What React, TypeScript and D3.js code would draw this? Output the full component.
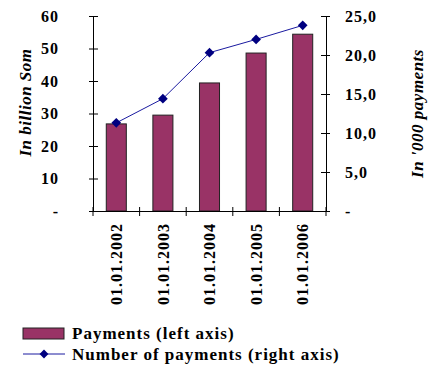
import { useEffect, useRef } from "react";
import * as d3 from "d3";

const dates = ["01.01.2002", "01.01.2003", "01.01.2004", "01.01.2005", "01.01.2006"];
const payments = [26.8, 29.5, 39.4, 48.6, 54.4];
const paymentCounts = [11.3, 14.4, 20.3, 22.0, 23.8];
const leftTicks = [0, 10, 20, 30, 40, 50, 60];
const rightTicks = [0, 5, 10, 15, 20, 25];

const font = "'Liberation Serif', 'Times New Roman', serif";

export default function App() {
	const ref = useRef<SVGSVGElement>(null);

	useEffect(() => {
		if (!ref.current) return;
		const svg = d3.select(ref.current);
		svg.selectAll("*").remove();

		const left = 93;
		const right = 326;
		const top = 16;
		const bottom = 211;

		const x = d3.scaleBand().domain(dates).range([left, right]).paddingInner(0.57).paddingOuter(0.285);
		const yL = d3.scaleLinear().domain([0, 60]).range([bottom, top]);
		const yR = d3.scaleLinear().domain([0, 25]).range([bottom, top]);

		// bars
		svg
			.append("g")
			.selectAll("rect")
			.data(payments)
			.join("rect")
			.attr("x", (_, i) => x(dates[i]) ?? 0)
			.attr("y", (d) => yL(d))
			.attr("width", x.bandwidth())
			.attr("height", (d) => bottom - yL(d))
			.attr("fill", "#993366")
			.attr("stroke", "#222")
			.attr("stroke-width", 1);

		// axes
		const styleAxis = (g: d3.Selection<SVGGElement, unknown, null, undefined>) => {
			g.selectAll("path,line").attr("stroke", "#000").attr("stroke-width", 1);
			g.selectAll("text")
				.attr("font-family", font)
				.attr("font-size", 16)
				.attr("font-weight", "bold")
				.attr("letter-spacing", 1)
				.attr("fill", "#000");
		};

		const leftAxis = svg
			.append("g")
			.attr("transform", `translate(${left},0)`)
			.call(
				d3
					.axisLeft(yL)
					.tickValues(leftTicks)
					.tickSizeInner(0)
					.tickSizeOuter(0)
					.tickFormat((v) => (Number(v) === 0 ? "-" : String(v)))
			);
		leftAxis.selectAll(".tick line").attr("x1", -4).attr("x2", 5);
		leftAxis.selectAll(".tick text").attr("x", -34).attr("text-anchor", "end");
		styleAxis(leftAxis);

		const rightAxis = svg
			.append("g")
			.attr("transform", `translate(${right},0)`)
			.call(
				d3
					.axisRight(yR)
					.tickValues(rightTicks)
					.tickSizeInner(0)
					.tickSizeOuter(0)
					.tickFormat((v) => (Number(v) === 0 ? "-" : d3.format(".1f")(Number(v)).replace(".", ",")))
			);
		rightAxis.selectAll(".tick line").attr("x1", -5).attr("x2", 4);
		rightAxis.selectAll(".tick text").attr("x", 19).attr("text-anchor", "start");
		styleAxis(rightAxis);

		const bottomAxis = svg
			.append("g")
			.attr("transform", `translate(0,${bottom})`)
			.call(d3.axisBottom(x).tickSize(0).tickSizeOuter(0));
		bottomAxis.selectAll(".tick line").remove();
		const boundaries = d3.range(dates.length + 1).map((i) => left + i * x.step());
		bottomAxis
			.selectAll("line.sep")
			.data(boundaries)
			.join("line")
			.attr("class", "sep")
			.attr("x1", (d) => d)
			.attr("x2", (d) => d)
			.attr("y1", -4)
			.attr("y2", 5);
		bottomAxis
			.selectAll(".tick text")
			.attr("transform", "rotate(-90)")
			.attr("x", -12)
			.attr("y", 0)
			.attr("dy", "0.35em")
			.attr("text-anchor", "end");
		styleAxis(bottomAxis);

		// line
		const line = d3
			.line<number>()
			.x((_, i) => (x(dates[i]) ?? 0) + x.bandwidth() / 2)
			.y((d) => yR(d));
		svg
			.append("path")
			.datum(paymentCounts)
			.attr("d", line)
			.attr("fill", "none")
			.attr("stroke", "#1a1aa0")
			.attr("stroke-width", 1);
		svg
			.append("g")
			.selectAll("path")
			.data(paymentCounts)
			.join("path")
			.attr("d", d3.symbol(d3.symbolDiamond2, 60))
			.attr("transform", (d, i) => `translate(${(x(dates[i]) ?? 0) + x.bandwidth() / 2},${yR(d)})`)
			.attr("fill", "#000080");

		// axis titles
		svg
			.append("text")
			.attr("transform", `translate(31,${(top + bottom) / 2 - 11}) rotate(-90)`)
			.attr("text-anchor", "middle")
			.attr("font-family", font)
			.attr("font-size", 17)
			.attr("font-weight", "bold")
			.attr("font-style", "italic")
			.attr("letter-spacing", 0.5)
			.text("In billion Som");
		svg
			.append("text")
			.attr("transform", `translate(423,${(top + bottom) / 2 + 0}) rotate(-90)`)
			.attr("text-anchor", "middle")
			.attr("font-family", font)
			.attr("font-size", 17)
			.attr("font-weight", "bold")
			.attr("font-style", "italic")
			.attr("letter-spacing", 0.5)
			.text("In '000 payments");

		// legend
		const legend = svg
			.append("g")
			.attr("font-family", font)
			.attr("font-size", 17)
			.attr("font-weight", "bold")
			.attr("letter-spacing", 1);
		legend
			.append("rect")
			.attr("x", 23)
			.attr("y", 328)
			.attr("width", 41)
			.attr("height", 11)
			.attr("fill", "#993366")
			.attr("stroke", "#222");
		legend.append("text").attr("x", 72).attr("y", 339).text("Payments (left axis)");
		legend
			.append("line")
			.attr("x1", 23)
			.attr("x2", 65)
			.attr("y1", 354)
			.attr("y2", 354)
			.attr("stroke", "#1a1aa0")
			.attr("stroke-width", 1);
		legend
			.append("path")
			.attr("d", d3.symbol(d3.symbolDiamond2, 50))
			.attr("transform", "translate(44,354)")
			.attr("fill", "#000080");
		legend.append("text").attr("x", 72).attr("y", 360).text("Number of payments (right axis)");
	}, []);

	return (
		<svg
			ref={ref}
			width={430}
			height={377}
			style={{ position: "absolute", left: 0, top: 0, background: "#fff" }}
		/>
	);
}
